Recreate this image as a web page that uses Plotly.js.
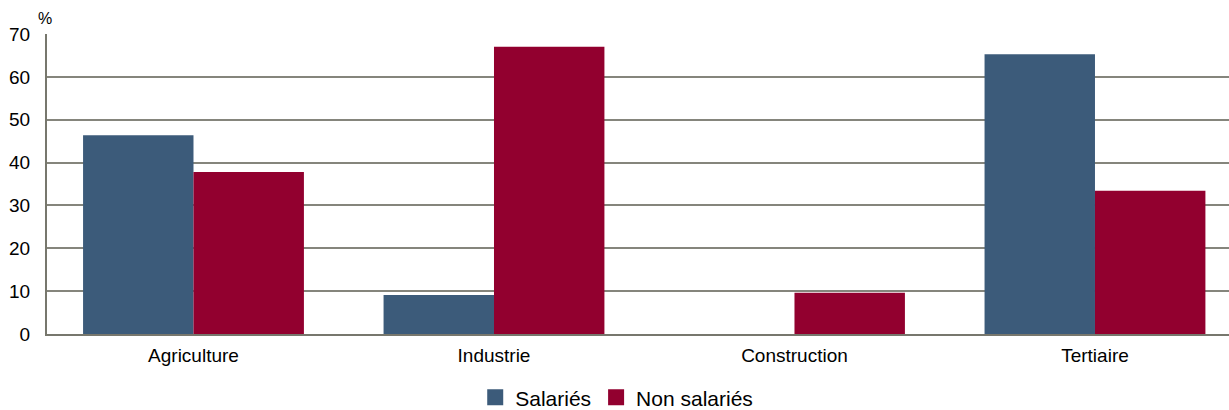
<!DOCTYPE html>
<html>
<head>
<meta charset="utf-8">
<script src="https://cdn.plot.ly/plotly-3.0.1.min.js"></script>
<style>html,body{margin:0;padding:0;background:#fff;}#chart{width:1229px;height:410px;}</style>
</head>
<body>
<div id="chart"></div>
<script>
const categories = ["Agriculture", "Industrie", "Construction", "Tertiaire"];
const salaries = [46.4, 9.1, 0, 65.3];
const nonSalaries = [37.8, 67.0, 9.6, 33.4];
const yTicks = [0, 10, 20, 30, 40, 50, 60, 70];
const seriesNames = ["Salariés", "Non salariés"];
const seriesColors = ["#3c5b7a", "#92002f"];

const data = [
  {type: "bar", name: seriesNames[0], x: categories, y: salaries, marker: {color: seriesColors[0]}, showlegend: false},
  {type: "bar", name: seriesNames[1], x: categories, y: nonSalaries, marker: {color: seriesColors[1]}, showlegend: false},
  {type: "scatter", mode: "markers", name: seriesNames[0], x: [null], y: [null], marker: {symbol: "square", size: 20, color: seriesColors[0]}, showlegend: true},
  {type: "scatter", mode: "markers", name: seriesNames[1], x: [null], y: [null], marker: {symbol: "square", size: 20, color: seriesColors[1]}, showlegend: true}
];

const layout = {
  width: 1229, height: 410,
  margin: {l: 47, r: 0, t: 34, b: 76, autoexpand: false},
  paper_bgcolor: "#fff", plot_bgcolor: "#fff",
  font: {family: "Liberation Sans, Arial, sans-serif", color: "#000", size: 17},
  barmode: "group", bargap: 0.265, bargroupgap: 0,
  xaxis: {type: "category", range: [-0.4875, 3.446], showgrid: false, showline: true, linecolor: "#77776d", linewidth: 2, ticks: "", tickfont: {size: 19}, ticklabelstandoff: 3},
  yaxis: {range: [0, 70], tickvals: yTicks, showgrid: true, gridcolor: "#85857c", gridwidth: 2, showline: true, linecolor: "#77776d", linewidth: 2, zeroline: false, ticks: "", tickfont: {size: 19}, ticklabelstandoff: 11},
  legend: {orientation: "h", x: 0.482, xanchor: "center", yref: "container", y: 0.03, yanchor: "middle", font: {size: 21}, itemwidth: 30, traceorder: "normal"},
  annotations: [{text: "%", xref: "paper", yref: "paper", x: 0, y: 1, xanchor: "center", yanchor: "bottom", xshift: -2, yshift: 5, showarrow: false, font: {size: 16}}],
  showlegend: true
};

Plotly.newPlot("chart", data, layout, {staticPlot: true});
</script>
</body>
</html>
